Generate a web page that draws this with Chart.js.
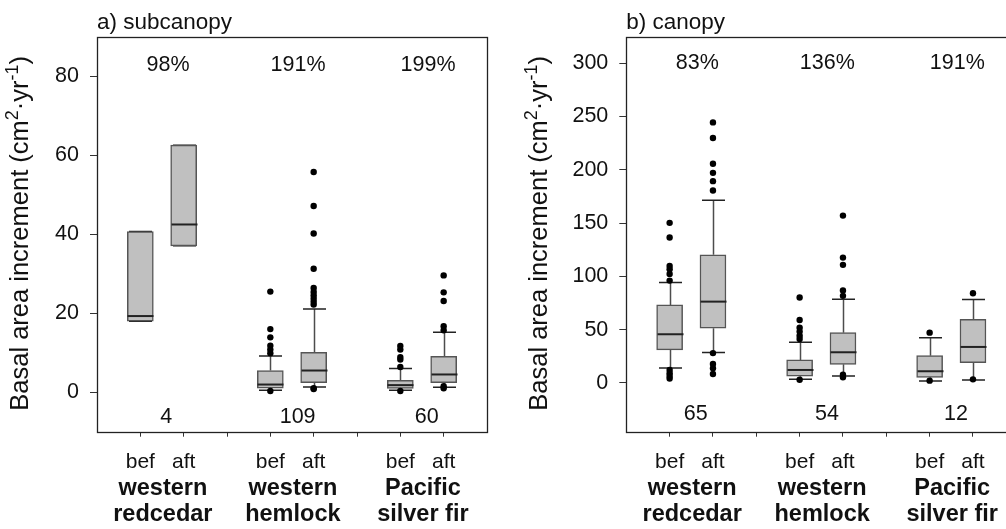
<!DOCTYPE html>
<html>
<head>
<meta charset="utf-8">
<script src="https://cdn.jsdelivr.net/npm/chart.js@4.4.1/dist/chart.umd.min.js"></script>
<style>
  html, body { margin: 0; padding: 0; background: #fff; overflow: hidden; }
  #wrap { position: relative; width: 1006px; height: 529px; overflow: hidden; }
  #subcanopy { position: absolute; left: 0; top: 0; }
  #canopy { position: absolute; left: 500px; top: 0; }
</style>
</head>
<body>
<div id="wrap">
  <canvas id="subcanopy" width="500" height="529"></canvas>
  <canvas id="canopy" width="530" height="529"></canvas>
</div>
<script>
// box positions on the x axis: bef/aft pairs, gaps at 3 and 6
const positions = [1, 2, 4, 5, 7, 8];
const xTickValues = [1, 2, 3, 4, 5, 6, 7, 8];
const xTickLabels = ['', 'bef', 'aft', '', 'bef', 'aft', '', 'bef', 'aft'];
const species = [['western', 'redcedar'], ['western', 'hemlock'], ['Pacific', 'silver fir']];
const speciesX = [1.52, 4.52, 7.52];
const pctX = [1.64, 4.64, 7.64];
const countX = [1.6, 4.63, 7.61];

// a) subcanopy
const subQ1 = [18.0, 37.1, 1.0, 2.4, 0.95, 2.45];
const subMed = [19.3, 42.5, 1.95, 5.5, 1.8, 4.5];
const subQ3 = [40.7, 62.6, 5.5, 10.1, 3.0, 9.1];
const subLo = [18.0, 37.1, 0.5, 1.35, 0.5, 1.27];
const subHi = [40.7, 62.6, 9.2, 21.1, 6.0, 15.2];
const subOut = [
  [],
  [],
  [25.5, 16.0, 13.9, 11.8, 10.8, 9.9, 0.3],
  [55.8, 47.2, 40.2, 31.3, 26.4, 25.4, 24.5, 23.7, 22.9, 22.2, 1.0, 0.8],
  [11.7, 10.8, 8.9, 8.3, 6.4, 0.3],
  [29.6, 25.3, 23.1, 16.7, 15.7, 1.5, 1.0]
];
const subPct = ['98%', '191%', '199%'];
const subN = ['4', '109', '60'];
const subTicks = [0, 20, 40, 60, 80];

// b) canopy
const canQ1 = [31.0, 51.3, 6.3, 17.5, 5.3, 19.1];
const canMed = [45.7, 76.3, 12.2, 28.8, 11.0, 33.8];
const canQ3 = [73.2, 120.2, 21.6, 47.2, 25.6, 59.8];
const canLo = [14.1, 28.6, 3.4, 6.6, 1.9, 2.8];
const canHi = [94.2, 171.5, 38.2, 78.6, 42.5, 78.2];
const canOut = [
  [150.2, 136.4, 109.8, 106.7, 102.3, 96.0, 12.2, 9.1, 6.5, 4.2],
  [244.4, 229.7, 205.6, 197.1, 189.3, 180.5, 28.0, 17.8, 13.8, 8.4],
  [80.1, 59.1, 51.9, 48.2, 44.4, 41.3, 3.0],
  [157.0, 117.6, 110.8, 86.7, 81.7, 7.8, 5.3],
  [47.2, 2.2],
  [84.2, 3.4]
];
const canPct = ['83%', '136%', '191%'];
const canN = ['65', '54', '12'];
const canTicks = [0, 50, 100, 150, 200, 250, 300];

var FONT = "'Liberation Sans', Arial, Helvetica, sans-serif";
var INK = '#111';

var boxPlot = {
  id: 'boxPlot',
  // whiskers and staples go under the boxes and points
  beforeDatasetsDraw: function (chart) {
    var o = chart.options.plugins.boxPlot;
    var xs = chart.scales.x, ys = chart.scales.y, ctx = chart.ctx;
    ctx.save();
    for (var i = 0; i < positions.length; i++) {
      var x = Math.round(xs.getPixelForValue(positions[i])) + 0.5;
      var q1 = ys.getPixelForValue(o.q1[i]);
      var q3 = ys.getPixelForValue(o.q3[i]);
      var lo = ys.getPixelForValue(o.lo[i]);
      var hi = ys.getPixelForValue(o.hi[i]);
      ctx.strokeStyle = '#4d4d4d';
      ctx.lineWidth = 1.5;
      ctx.beginPath();
      ctx.moveTo(x, q3); ctx.lineTo(x, hi);
      ctx.moveTo(x, q1); ctx.lineTo(x, lo);
      ctx.stroke();
      ctx.strokeStyle = '#222';
      ctx.beginPath();
      ctx.moveTo(x - 11.5, hi); ctx.lineTo(x + 11.5, hi);
      ctx.moveTo(x - 11.5, lo); ctx.lineTo(x + 11.5, lo);
      ctx.stroke();
    }
    ctx.restore();
  },
  afterDatasetsDraw: function (chart) {
    var o = chart.options.plugins.boxPlot;
    var xs = chart.scales.x, ys = chart.scales.y, ctx = chart.ctx;
    ctx.save();
    ctx.strokeStyle = '#222';
    ctx.lineWidth = 2;
    for (var i = 0; i < positions.length; i++) {
      var x = Math.round(xs.getPixelForValue(positions[i])) + 0.5;
      var m = ys.getPixelForValue(o.med[i]);
      ctx.beginPath();
      ctx.moveTo(x - 13, m); ctx.lineTo(x + 13, m);
      ctx.stroke();
    }
    ctx.restore();
  },
  afterDraw: function (chart) {
    var o = chart.options.plugins.boxPlot;
    var xs = chart.scales.x, ys = chart.scales.y, ctx = chart.ctx;
    var ca = chart.chartArea;
    ctx.save();

    // frame round the plot
    ctx.strokeStyle = '#222';
    ctx.lineWidth = 1.3;
    ctx.strokeRect(Math.round(ca.left) + 0.5, Math.round(ca.top) + 0.5,
      Math.round(ca.right - ca.left), Math.round(ca.bottom - ca.top));

    ctx.fillStyle = INK;
    // panel title
    ctx.font = '22.5px ' + FONT;
    ctx.textAlign = 'left';
    ctx.textBaseline = 'alphabetic';
    ctx.fillText(o.title, ca.left, 28.5);

    // percent change above, sample size below
    ctx.font = '21.5px ' + FONT;
    ctx.textAlign = 'center';
    ctx.textBaseline = 'middle';
    for (var i = 0; i < 3; i++) {
      ctx.fillText(o.pct[i], xs.getPixelForValue(pctX[i]), ys.getPixelForValue(o.pctY));
      ctx.fillText(o.n[i], xs.getPixelForValue(countX[i]), ys.getPixelForValue(o.nY));
    }

    // species names under the bef/aft labels
    ctx.font = 'bold 23.5px ' + FONT;
    ctx.textBaseline = 'alphabetic';
    for (var j = 0; j < species.length; j++) {
      var sx = xs.getPixelForValue(speciesX[j]);
      ctx.fillText(species[j][0], sx, 495);
      ctx.fillText(species[j][1], sx, 521);
    }

    // y axis title with superscripts
    var big = '25.5px ' + FONT, small = '18px ' + FONT;
    var parts = [
      ['Basal area increment (cm', big, 0],
      ['2', small, -10],
      ['\u00B7yr', big, 0],
      ['-1', small, -10],
      [')', big, 0]
    ];
    var total = 0;
    parts.forEach(function (p) { ctx.font = p[1]; total += ctx.measureText(p[0]).width; });
    ctx.translate(o.titleX, (ca.top + ca.bottom) / 2 - 1);
    ctx.rotate(-Math.PI / 2);
    ctx.textAlign = 'left';
    var cx = -total / 2;
    parts.forEach(function (p) {
      ctx.font = p[1];
      ctx.fillText(p[0], cx, p[2]);
      cx += ctx.measureText(p[0]).width;
    });
    ctx.restore();
  }
};

function buildChart(id, cfg) {
  var boxes = positions.map(function (x, i) { return { x: x, y: [cfg.q1[i], cfg.q3[i]] }; });
  var points = [];
  positions.forEach(function (x, i) {
    cfg.out[i].forEach(function (v) { points.push({ x: x, y: v }); });
  });

  return new Chart(document.getElementById(id), {
    type: 'bar',
    data: {
      datasets: [{
        type: 'bar',
        data: boxes,
        backgroundColor: '#c0c0c0',
        borderColor: '#555',
        borderWidth: 1.5,
        borderSkipped: false,
        barThickness: 26,
        order: 2
      }, {
        type: 'scatter',
        data: points,
        backgroundColor: '#000',
        borderWidth: 0,
        pointRadius: 3.2,
        order: 1
      }]
    },
    options: {
      responsive: false,
      animation: false,
      layout: { padding: { top: 37, right: cfg.padRight, left: 0, bottom: 0 } },
      plugins: {
        legend: { display: false },
        tooltip: { enabled: false },
        boxPlot: {
          q1: cfg.q1, med: cfg.med, q3: cfg.q3, lo: cfg.lo, hi: cfg.hi,
          title: cfg.title, pct: cfg.pct, n: cfg.n,
          pctY: cfg.pctY, nY: cfg.nY, titleX: cfg.titleX
        }
      },
      scales: {
        x: {
          type: 'linear',
          min: 0,
          max: 9,
          offset: false,
          border: { display: false },
          grid: { offset: false, drawOnChartArea: false, drawTicks: true, tickLength: 5, color: '#333', tickColor: '#333' },
          afterBuildTicks: function (s) { s.ticks = xTickValues.map(function (v) { return { value: v }; }); },
          afterFit: function (s) { s.height = 97.3; },
          ticks: {
            autoSkip: false,
            maxRotation: 0,
            padding: 12.5,
            color: INK,
            font: { family: FONT, size: 21 },
            callback: function (v) { return xTickLabels[v] || ''; }
          }
        },
        y: {
          type: 'linear',
          min: cfg.yMin,
          max: cfg.yMax,
          border: { display: false },
          grid: { drawOnChartArea: false, drawTicks: true, tickLength: 7, color: '#333', tickColor: '#333' },
          afterBuildTicks: function (s) { s.ticks = cfg.ticks.map(function (v) { return { value: v }; }); },
          afterFit: function (s) { s.width = cfg.axisWidth; },
          ticks: {
            padding: 11,
            color: INK,
            font: { family: FONT, size: 21.5 },
            callback: function (v) { return String(v); }
          }
        }
      }
    },
    plugins: [boxPlot]
  });
}

buildChart('subcanopy', {
  q1: subQ1, med: subMed, q3: subQ3, lo: subLo, hi: subHi, out: subOut,
  title: 'a) subcanopy', pct: subPct, n: subN, ticks: subTicks,
  yMin: -10, yMax: 90, pctY: 83, nY: -6.3,
  axisWidth: 97, padRight: 13, titleX: 27.5
});

buildChart('canopy', {
  q1: canQ1, med: canMed, q3: canQ3, lo: canLo, hi: canHi, out: canOut,
  title: 'b) canopy', pct: canPct, n: canN, ticks: canTicks,
  yMin: -45.7, yMax: 324.5, pctY: 300, nY: -29,
  axisWidth: 126.3, padRight: 13.7, titleX: 47
});
</script>
</body>
</html>
